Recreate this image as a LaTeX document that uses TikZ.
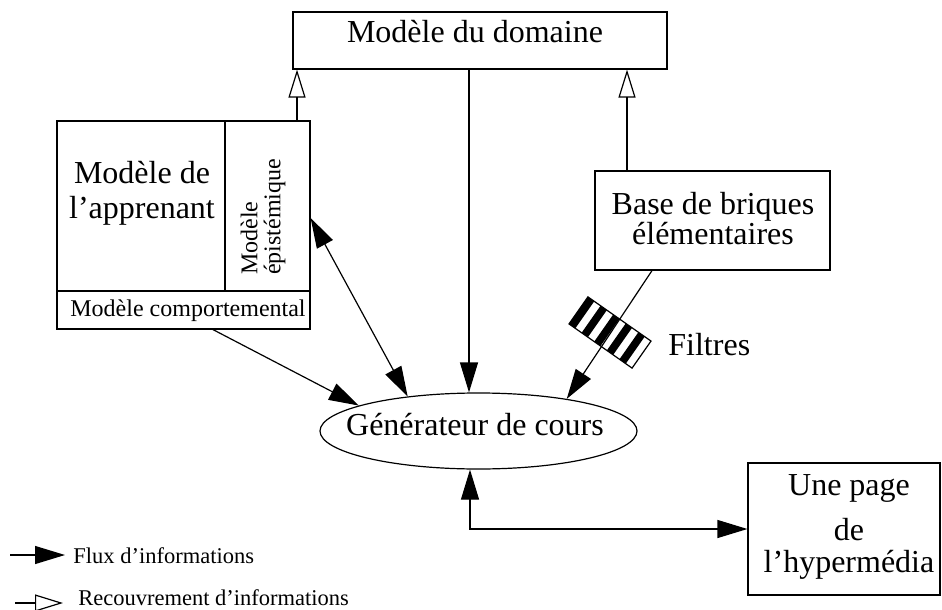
\documentclass[tikz,border=0pt]{standalone}
\usepackage{fontspec}
\setmainfont{Liberation Serif}
\usetikzlibrary{arrows.meta,shapes.geometric}
\tikzset{
    boite/.style={draw,line width=0.6pt,inner sep=0pt},
    grand/.style={font=\fontsize{16}{17.5}\selectfont,inner sep=0pt},
    petit/.style={font=\fontsize{12}{11.5}\selectfont,inner sep=0pt},
    legende/.style={font=\fontsize{11.25}{13}\selectfont,inner sep=0pt},
    flux/.style={line width=0.6pt,-{Triangle[length=15pt,width=9pt]}},
    fluxdouble/.style={line width=0.6pt,{Triangle[length=15pt,width=9pt]}-{Triangle[length=15pt,width=9pt]}},
    recouv/.style={line width=0.6pt,-{Triangle[open,length=14pt,width=8.5pt]}},
}
\begin{document}
\begin{tikzpicture}[x=0.5pt,y=-0.5pt]
    \useasboundingbox (0,0) rectangle (942,610);
    \node[boite,minimum width=187pt,minimum height=28.5pt] (domaine) at (480,40.5) {};
    \node[boite,minimum width=84pt,minimum height=85pt] (apprenant) at (141,206) {};
    \node[boite,minimum width=42.5pt,minimum height=85pt] (epistemique) at (267.5,206) {};
    \node[boite,minimum width=126.5pt,minimum height=19pt] (comportemental) at (183.5,310) {};
    \node[boite,minimum width=117.5pt,minimum height=49.5pt] (base) at (712.5,220.5) {};
    \node[boite,minimum width=96pt,minimum height=66pt] (page) at (844,529) {};
    \node[boite,ellipse,minimum width=158.5pt,minimum height=38pt] (generateur) at (478.5,431) {};

    \node[grand,anchor=base] (domaine-t) at (475,43) {Modèle du domaine};
    \node[grand,align=center] (apprenant-t) at (142,193) {Modèle de\\l’apprenant};
    \node[petit,rotate=90,align=left] (epistemique-t) at (263,217) {Modèle\\épistémique};
    \node[petit,anchor=base] (comportemental-t) at (188,316) {Modèle comportemental};
    \node[grand,align=center,font=\fontsize{16}{15}\selectfont] (base-t) at (713,219) {Base de briques\\élémentaires};
    \node[grand,align=center,font=\fontsize{16}{16}\selectfont] (page-t) at (849,526.5) {Une page\\[6.5pt]de\\l’hypermédia};
    \node[grand,anchor=base] (generateur-t) at (475,435) {Générateur de cours};
    \node[grand,anchor=base west] (filtre-t) at (668,355) {Filtres};

    \begin{scope}[shift={(610,332.5)},rotate=-35]
        \foreach \i in {0,2,4,6,8}
            \fill (-38.5+\i*7.7,-16.5) rectangle ++(7.7,33);
        \draw[line width=0.6pt] (-38.5,-16.5) rectangle (38.5,16.5);
    \end{scope}

    \draw[flux] ([xshift=-5.5pt]domaine.south) -- ([xshift=-5.5pt]domaine.south |- generateur.north);
    \draw[recouv] ([xshift=14.75pt]epistemique.north) -- ([xshift=14.75pt]epistemique.north |- domaine.south);
    \draw[recouv] ([xshift=-42.75pt]base.north) -- ([xshift=-42.75pt]base.north |- domaine.south);
    \draw[flux] ([xshift=14.75pt]comportemental.south) -- (generateur.168);
    \draw[fluxdouble] ([yshift=-6pt]epistemique.east) -- (generateur.154);
    \draw[flux] ([xshift=-30.25pt]base.south) -- (generateur.20);
    \draw[fluxdouble] ([xshift=-4.25pt]generateur.south) |- (page.west);

    \coordinate (flux-a) at (10,555);
    \coordinate (flux-b) at (65,555);
    \coordinate (recouv-a) at (15,603);
    \coordinate (recouv-b) at (63,603);
    \draw[flux] (flux-a) -- (flux-b);
    \draw[recouv] (recouv-a) -- (recouv-b);
    \node[legende,anchor=base west] (flux-t) at (73,563) {Flux d’informations};
    \node[legende,anchor=base west] (recouv-t) at (78,605) {Recouvrement d’informations};
\end{tikzpicture}
\end{document}
